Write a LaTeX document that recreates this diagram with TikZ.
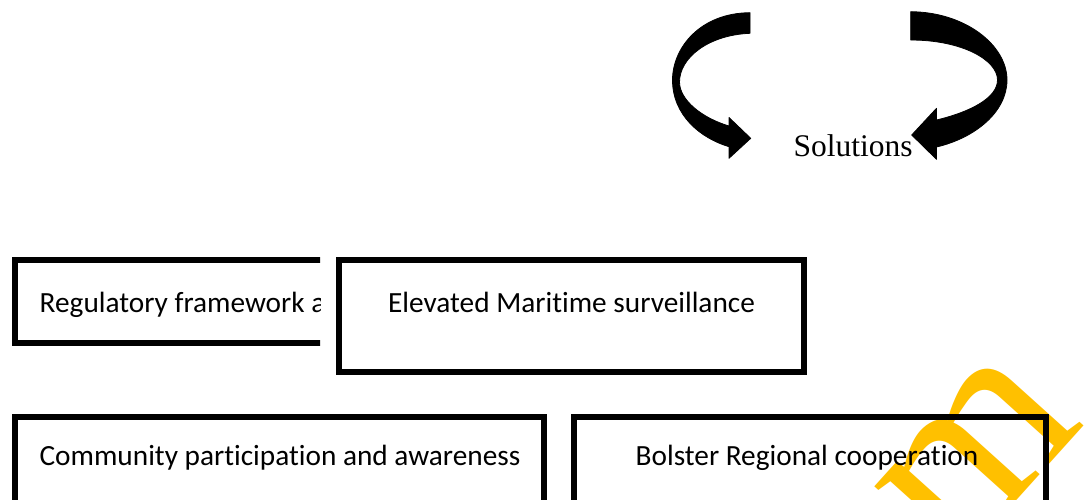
\documentclass[tikz,border=0pt]{standalone}
\usepackage{fontspec}
\setmainfont{Liberation Serif}
\newfontfamily\boxfont[Ligatures=NoCommon]{Carlito}
\definecolor{gold}{RGB}{255,192,0}
\tikzset{
  frame/.style={draw=black, line width=5.8pt, rectangle, inner sep=0pt, outer sep=0pt},
  boxtext/.style={font=\boxfont\fontsize{29.3}{34}\selectfont, inner sep=0pt, text=black},
  bentarrow/.style={fill=black, draw=black, line width=0.8pt, line join=round},
}
\begin{document}
\begin{tikzpicture}[x=1pt,y=-1pt]
\useasboundingbox (0,0) rectangle (1089,499);
\clip (0,0) rectangle (1089,499);
\fill[white] (0,0) rectangle (1089,499);

% emblem in the lower right corner
\node[text=gold, inner sep=0pt, rotate=48, font=\fontsize{250}{250}\selectfont] (mark) at (978,456) {m};

% curved arrows above the title
\path[bentarrow] (750,12.7) .. controls (700,13) and (672.5,48) .. (672.5,80)
  .. controls (672.5,115) and (700,138) .. (729,146.7) -- (729,158.3) -- (750.7,138.3)
  -- (729,117.5) -- (729,126) .. controls (702,118) and (679.5,100) .. (679.5,82)
  .. controls (679.5,58) and (708,35) .. (750,33.3) -- cycle;
\path[bentarrow] (910.7,11.7) .. controls (965,12) and (1007,45) .. (1007,80)
  .. controls (1007,112) and (975,138) .. (936.5,147) -- (936.5,159.3) -- (911.7,135)
  -- (936.5,108.3) -- (936.5,120) .. controls (970,112) and (997.5,98) .. (997.5,80)
  .. controls (997.5,60) and (962,40) .. (910.7,40) -- cycle;
\node[anchor=base west, inner sep=0pt, font=\fontsize{31.5}{36}\selectfont] (sol) at (793.5,156.5) {Solutions};

% first row
\begin{scope}
  \clip (0,240) rectangle (320,360);
  \node[frame, anchor=center, minimum width=500pt, minimum height=83pt] (regbox) at (265,301.5) {};
  \node[boxtext, anchor=base west] (reg) at (39.5,312) {Regulatory framework a};
\end{scope}
\node[frame, minimum width=465pt, minimum height=112pt] (elevbox) at (571.5,316) {};
\node[boxtext, anchor=base] (elev) at (571.5,312) {Elevated Maritime surveillance};

% second row
\node[frame, minimum width=528.7pt, minimum height=100pt] (commbox) at (279.35,467) {};
\node[boxtext, anchor=base] (comm) at (280,465) {Community participation and awareness};
\node[frame, minimum width=472.3pt, minimum height=100pt] (bolsbox) at (809.85,467) {};
\node[boxtext, anchor=base] (bols) at (807,465) {Bolster Regional cooperation};
\end{tikzpicture}
\end{document}
